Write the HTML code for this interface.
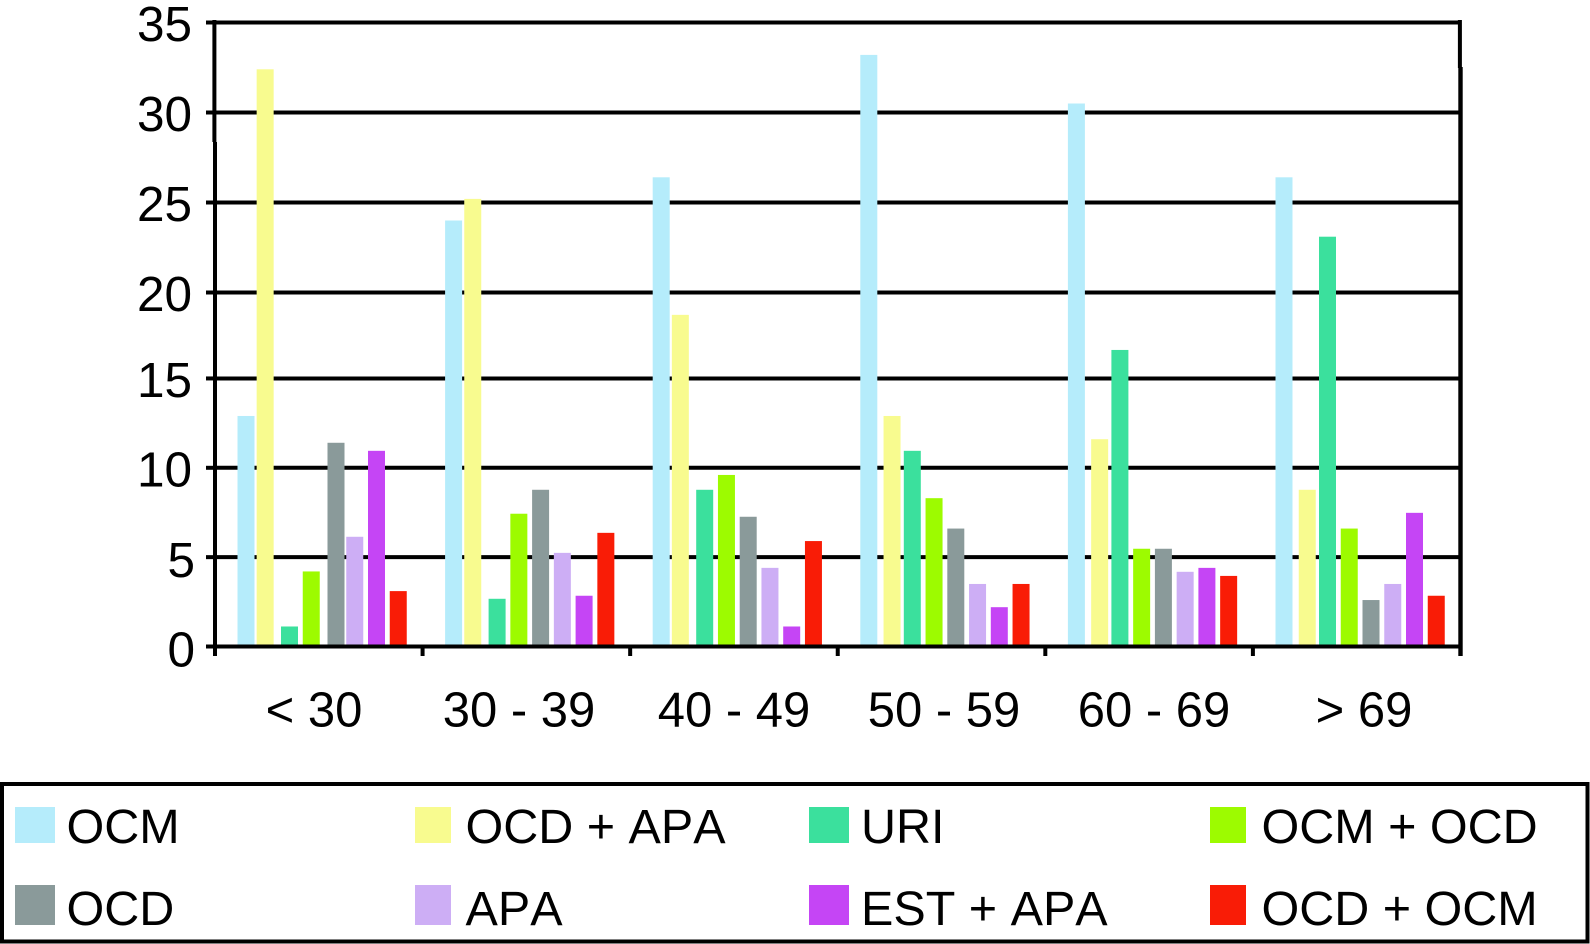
<!DOCTYPE html>
<html lang="en">
<head>
<meta charset="utf-8">
<title>Grouped bar chart by age group</title>
<style>
  html, body { margin: 0; padding: 0; background: #fff; }
  svg { display: block; font-family: "Liberation Sans", Arial, sans-serif; font-kerning: none; }
  text { fill: #000; }
</style>
</head>
<body>
<svg id="chart" xmlns="http://www.w3.org/2000/svg" width="1590" height="944" viewBox="0 0 1590 944">
  <rect x="0" y="0" width="1590" height="944" fill="#ffffff"/>
  <g id="grid"></g>
  <g id="bars"></g>
  <g id="axes"></g>
  <g>
    <rect x="2" y="784" width="1585.5" height="157.5" fill="none" stroke="#000" stroke-width="4"/>
    <g>
      <rect x="15" y="807" width="40" height="36" fill="#b5ecfb"/>
      <text x="66.5" y="843" font-size="48.5">OCM</text>
    </g>
    <g>
      <rect x="415" y="807" width="36" height="36" fill="#f8fb8f"/>
      <text x="465.5" y="843" font-size="48.5">OCD + APA</text>
    </g>
    <g>
      <rect x="809" y="807" width="40" height="36" fill="#3be09d"/>
      <text x="861" y="843" font-size="48.5">URI</text>
    </g>
    <g>
      <rect x="1210" y="807" width="36" height="36" fill="#9dfb00"/>
      <text x="1261.5" y="843" font-size="48.5">OCM + OCD</text>
    </g>
    <g>
      <rect x="15" y="885" width="40" height="40" fill="#8a9a9a"/>
      <text x="66.5" y="925" font-size="48.5">OCD</text>
    </g>
    <g>
      <rect x="415" y="885" width="36" height="40" fill="#cdaef5"/>
      <text x="465.5" y="925" font-size="48.5">APA</text>
    </g>
    <g>
      <rect x="809" y="885" width="40" height="40" fill="#c545f5"/>
      <text x="861" y="925" font-size="48.5">EST + APA</text>
    </g>
    <g>
      <rect x="1210" y="885" width="36" height="40" fill="#f91c06"/>
      <text x="1261.5" y="925" font-size="48.5">OCD + OCM</text>
    </g>
  </g>
</svg>
<script>
const categories = ['< 30', '30 - 39', '40 - 49', '50 - 59', '60 - 69', '> 69'];
const yTicks = [0, 5, 10, 15, 20, 25, 30, 35];
const ocm = [12.9, 24, 26.4, 33.2, 30.5, 26.4];
const ocdApa = [32.4, 25.2, 18.7, 12.9, 11.6, 8.77];
const uri = [1.12, 2.67, 8.77, 10.95, 16.66, 23.1];
const ocmOcd = [4.2, 7.43, 9.6, 8.3, 5.47, 6.6];
const ocd = [11.4, 8.77, 7.26, 6.6, 5.47, 2.6];
const apa = [6.14, 5.24, 4.4, 3.5, 4.18, 3.5];
const estApa = [10.95, 2.84, 1.12, 2.2, 4.4, 7.48];
const ocdOcm = [3.1, 6.36, 5.9, 3.5, 3.95, 2.84];

const seriesList = [
  { key: 'ocm', values: ocm, color: '#b5ecfb' },
  { key: 'ocd-apa', values: ocdApa, color: '#f8fb8f' },
  { key: 'uri', values: uri, color: '#3be09d' },
  { key: 'ocm-ocd', values: ocmOcd, color: '#9dfb00' },
  { key: 'ocd', values: ocd, color: '#8a9a9a' },
  { key: 'apa', values: apa, color: '#cdaef5' },
  { key: 'est-apa', values: estApa, color: '#c545f5' },
  { key: 'ocd-ocm', values: ocdOcm, color: '#f91c06' }
];

const NS = 'http://www.w3.org/2000/svg';
const AXIS_LEFT = 215;
const AXIS_RIGHT = 1460.5;
const Y0 = 646.5;
const BAR_W = 17;

// Y axis: the source figure's grid spacing is very slightly uneven above 15.
function yScale(v) {
  if (v <= 15) return Y0 - v * 17.87;
  if (v <= 20) return 378.5 - (v - 15) * 17.2;
  return 292.5 - (v - 20) * 18;
}
function groupX(g) { return 237.5 + g * 207.6; }
function barX(g, s) {
  let x = groupX(g) + s * 21.75;
  if (s === 1) x += g < 3 ? -2.6 : 1.5;
  if (s === 4 && g === 0) x += 3;
  return x;
}
function categoryX(g) { return 314 + g * 210 - (g === 1 ? 5 : 0); }
function make(tag, attrs, parent) {
  const el = document.createElementNS(NS, tag);
  for (const k in attrs) el.setAttribute(k, attrs[k]);
  parent.appendChild(el);
  return el;
}

const gridG = document.getElementById('grid');
const barsG = document.getElementById('bars');
const axesG = document.getElementById('axes');

yTicks.forEach(function (t) {
  if (t === 0) return;
  const line = make('line', { x1: AXIS_LEFT, x2: AXIS_RIGHT, y1: yScale(t), y2: yScale(t), stroke: '#000', 'stroke-width': 4 }, gridG);
  
  
});

seriesList.forEach(function (series, s) {
  series.values.forEach(function (v, g) {
    const top = yScale(v);
    const bar = make('rect', { x: barX(g, s), y: top, width: BAR_W, height: Y0 - top, fill: series.color }, barsG);
    
    
  });
});

const yAxisUpper = make('line', { x1: AXIS_LEFT - 0.6, x2: AXIS_LEFT - 0.6, y1: 20, y2: 142, stroke: '#000', 'stroke-width': 4 }, axesG);



const yAxis = make('line', { x1: AXIS_LEFT, x2: AXIS_LEFT, y1: 142, y2: Y0 + 9.5, stroke: '#000', 'stroke-width': 4 }, axesG);



const rightUpper = make('line', { x1: AXIS_RIGHT - 0.6, x2: AXIS_RIGHT - 0.6, y1: 20, y2: 68, stroke: '#000', 'stroke-width': 4 }, axesG);



const right = make('line', { x1: AXIS_RIGHT, x2: AXIS_RIGHT, y1: 67, y2: Y0 + 9.5, stroke: '#000', 'stroke-width': 4.4 }, axesG);



const xAxis = make('line', { x1: AXIS_LEFT, x2: AXIS_RIGHT, y1: Y0, y2: Y0, stroke: '#000', 'stroke-width': 4 }, axesG);



yTicks.forEach(function (t) {
  const tick = make('line', { x1: AXIS_LEFT - 9, x2: AXIS_LEFT, y1: yScale(t), y2: yScale(t), stroke: '#000', 'stroke-width': 4 }, axesG);
  
  

  const label = make('text', { x: t < 10 ? 195 : 192, y: yScale(t) + (t < 10 ? 20 : 18.5), 'text-anchor': 'end', 'font-size': 49.5 }, axesG);
  
  
  label.textContent = String(t);
});

categories.forEach(function (c, g) {
  const tx = AXIS_LEFT + (g + 1) * 207.58;
  if (g < categories.length - 1) {
    const tick = make('line', { x1: tx, x2: tx, y1: Y0, y2: Y0 + 9.5, stroke: '#000', 'stroke-width': 4 }, axesG);
    
    
  }
  const label = make('text', { x: categoryX(g), y: 726.5, 'text-anchor': 'middle', 'font-size': 49 }, axesG);
  
  
  label.textContent = c;
});
</script>
</body>
</html>
